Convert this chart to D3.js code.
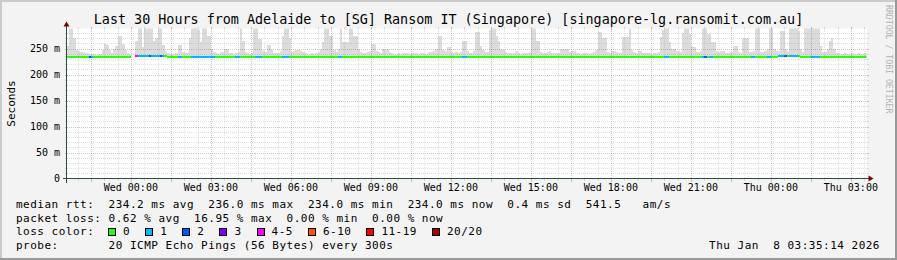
<!DOCTYPE html>
<html><head><meta charset="utf-8">
<script src="https://cdn.jsdelivr.net/npm/d3@7"></script>
<style>
html,body{margin:0;padding:0;background:#f3f3f3;}
svg{display:block;}
text{font-family:"DejaVu Sans Mono",monospace;}
</style></head><body>
<svg id="c" width="897" height="260"></svg>
<script>
// ---------------- data ----------------
const titleText = "Last 30 Hours from Adelaide to [SG] Ransom IT (Singapore) [singapore-lg.ransomit.com.au]";
const endTime = Date.UTC(2026, 0, 8, 3, 35, 14);
const spanHours = 30;
const stepSeconds = 300;
const yMax = 288.5;
const yTickValues = [0, 50, 100, 150, 200, 250];
const yTickLabels = ["0", "50 m", "100 m", "150 m", "200 m", "250 m"];
const xTickLabels = ["Wed 00:00","Wed 03:00","Wed 06:00","Wed 09:00","Wed 12:00","Wed 15:00","Wed 18:00","Wed 21:00","Thu 00:00","Thu 03:00"];

// median rtt per 5-minute step (ms), null = no data
const medianRtt = [
234,234,234,234,234,234,234,234,234,234,
234,234,234,234,234,234,234,234,234,234,
234,234,234,234,234,234,234,234,234,null,
null,236,236,236,236,236,236,236,236,236,
236,236,236,236,236,234,234,234,234,234,
234,234,234,234,234,234,234,234,234,234,
234,234,234,234,234,234,234,234,234,234,
234,234,234,234,234,234,234,234,234,234,
234,234,234,234,234,234,234,234,234,234,
234,234,234,234,234,234,234,234,234,234,
234,234,234,234,234,234,234,234,234,234,
234,234,234,234,234,234,234,234,234,234,
234,234,234,234,234,234,234,234,234,234,
234,234,234,234,234,234,234,234,234,234,
234,234,234,234,234,234,234,234,234,234,
234,234,234,234,234,234,234,234,234,234,
234,234,234,234,234,234,234,234,234,234,
234,234,234,234,234,234,234,234,234,234,
234,234,234,234,234,234,234,234,234,234,
234,234,234,234,234,234,234,234,234,234,
234,234,234,234,234,234,234,234,234,234,
234,234,234,234,234,234,234,234,234,234,
234,234,234,234,234,234,234,234,234,234,
234,234,234,234,234,234,234,234,234,234,
234,234,234,234,234,234,234,234,234,234,
234,234,234,234,234,234,234,234,234,234,
234,234,234,234,234,234,234,234,234,234,
234,234,234,234,234,234,234,234,234,234,
234,234,234,234,234,234,234,234,234,234,
234,234,234,234,234,234,234,234,234,234,
234,234,234,234,234,234,234,234,234,234,
234,234,234,234,234,234,234,234,234,234,
236,236,236,236,236,236,236,236,236,236,
234,234,234,234,234,234,234,234,234,234,
234,234,234,234,234,234,234,234,234,234,
234,234,234,234,234,234,234,234,234,234
];

// lost pings (of 20) per step
const lossCount = [
0,0,0,0,0,0,0,0,0,0,
2,1,0,0,0,0,0,0,0,0,
0,0,0,0,0,0,0,0,0,0,
0,4,1,1,1,1,1,2,1,1,
1,1,2,1,0,0,0,0,0,0,
1,1,0,0,0,0,1,1,1,1,
1,1,1,1,1,1,1,0,0,0,
0,0,0,0,0,0,1,1,0,0,
0,0,0,0,0,1,1,1,0,0,
0,0,0,0,0,0,0,1,1,1,
0,0,0,0,0,0,0,0,0,0,
0,0,0,0,0,0,0,0,0,0,
0,0,1,1,0,0,0,0,0,0,
0,0,0,0,0,0,0,0,0,0,
0,0,0,0,0,0,0,0,0,0,
0,0,0,0,0,0,0,0,0,0,
0,0,0,0,0,0,0,0,0,0,
0,0,0,0,0,0,0,0,1,1,
0,0,0,0,0,0,0,0,0,0,
0,0,0,0,0,0,0,0,0,0,
0,0,0,0,0,0,0,0,0,0,
0,0,0,0,0,0,0,0,0,0,
0,0,0,0,0,0,0,0,0,0,
0,0,0,0,0,0,0,0,0,0,
0,0,0,0,0,0,0,0,0,0,
0,0,0,0,0,0,0,0,0,0,
0,0,0,0,0,0,0,0,0,1,
1,0,0,0,0,0,0,0,0,0,
0,0,0,0,0,0,1,2,0,1,
1,0,0,0,0,0,0,0,0,0,
0,0,0,0,0,0,0,0,1,1,
0,0,0,0,0,1,1,0,0,0,
1,1,1,2,0,1,1,1,1,0,
0,0,0,0,0,1,1,1,1,0,
0,0,0,0,0,0,0,0,0,0,
0,0,0,0,0,0,0,0,0,0
];

// highest ping per step (ms) -> top of the smoke
const smokeMax = [
255,300,300,270,248,245,244,244,242,241,
240,239,240,238,239,240,248,258,256,247,
242,250,255,274,274,258,248,241,240,null,
null,265,300,300,252,290,300,300,300,265,
270,300,300,256,245,241,240,240,239,241,
256,256,243,241,242,270,300,300,300,285,
262,300,300,275,275,250,243,241,240,243,
243,250,249,242,241,240,242,244,300,265,
243,241,240,241,300,300,268,268,245,243,
256,256,248,242,241,242,245,275,300,300,
270,244,245,247,247,246,243,241,240,240,
241,240,242,243,250,262,300,300,275,275,
248,243,250,300,262,262,262,300,290,275,
275,250,243,241,242,244,245,259,259,246,
243,242,250,250,249,243,241,240,240,241,
240,241,242,241,240,241,242,241,240,241,
241,240,242,244,243,246,250,275,275,248,
246,252,252,244,242,243,242,244,265,265,
245,242,241,245,282,282,255,248,243,244,
285,300,300,275,265,250,248,244,241,242,
241,242,245,241,240,241,242,242,244,300,
300,265,265,243,241,242,244,245,242,241,
241,242,250,250,250,250,243,245,245,242,
241,240,241,242,241,240,241,243,248,282,
282,270,270,244,242,245,245,243,241,242,
273,273,273,290,248,243,242,245,245,242,
242,242,241,240,241,242,244,272,285,300,
300,262,250,250,245,245,244,280,300,300,
278,255,252,244,243,245,300,300,278,278,
262,262,245,243,245,245,242,241,243,244,
255,255,243,242,270,270,270,243,244,245,
300,300,244,243,245,250,300,300,250,245,
245,283,283,250,245,300,300,300,300,283,
250,244,300,300,300,300,300,300,300,255,
244,243,250,265,270,250,242,241,240,240,
241,240,240,241,240,240,241,240,240,241
];

const lossLegend = ["0","1","2","3","4-5","6-10","11-19","20/20"];
const lossColors = ["#26ff00","#00b8ff","#0059ff","#7e00ff","#ff00ff","#ff5500","#ff0000","#a10000"];

const statsLine = "median rtt:  234.2 ms avg  236.0 ms max  234.0 ms min  234.0 ms now  0.4 ms sd  541.5   am/s";
const lossLine = "packet loss: 0.62 % avg  16.95 % max  0.00 % min  0.00 % now";
const probeLabel = "probe:";
const probeText = "20 ICMP Echo Pings (56 Bytes) every 300s";
const stampText = "Thu Jan  8 03:35:14 2026";
const sideText = "RRDTOOL / TOBI OETIKER";

// ---------------- drawing ----------------
const W = 897, H = 260;
const svg = d3.select("#c");
const X0 = 66.5, XS = 800, Y0 = 178.5, YS = 150;
const start = endTime - spanHours * 3600e3;
const x = d3.scaleUtc().domain([new Date(start), new Date(endTime)]).range([X0, X0 + XS]);
const y = d3.scaleLinear().domain([0, yMax]).range([Y0, Y0 - YS]);

// background + 3D border
svg.append("rect").attr("width", W).attr("height", H).attr("fill", "#f3f3f3");
svg.append("path").attr("d", `M0,0H${W}V2H2V${H}H0Z`).attr("fill", "#cbcbcb");
svg.append("path").attr("d", `M${W},${H}H0V${H-2}H${W-2}V0H${W}Z`).attr("fill", "#999999");

// canvas
svg.append("rect").attr("x", X0).attr("y", Y0 - YS).attr("width", XS).attr("height", YS).attr("fill", "#ffffff");

const clipId = "plotclip";
svg.append("clipPath").attr("id", clipId).append("rect")
  .attr("x", X0).attr("y", Y0 - YS).attr("width", XS).attr("height", YS);

const steps = medianRtt.map((m, i) => ({
  t0: new Date(start + i * stepSeconds * 1000),
  t1: new Date(start + (i + 1) * stepSeconds * 1000),
  med: m, hi: smokeMax[i], loss: lossCount[i]
}));

const g = svg.append("g").attr("clip-path", `url(#${clipId})`);

// smoke
g.selectAll("rect.smoke").data(steps.filter(d => d.med != null && d.hi != null)).join("rect")
  .attr("class", "smoke")
  .attr("x", d => x(d.t0)).attr("width", d => x(d.t1) - x(d.t0) + 0.3)
  .attr("y", d => y(d.hi)).attr("height", d => y(d.med) - y(d.hi))
  .attr("fill", "#dcdcdc").attr("shape-rendering", "crispEdges");

function lossIdx(n) {
  if (n <= 3) return n;
  if (n <= 5) return 4;
  if (n <= 10) return 5;
  if (n <= 19) return 6;
  return 7;
}
// median line
g.selectAll("line.med").data(steps.filter(d => d.med != null)).join("line")
  .attr("class", "med")
  .attr("x1", d => x(d.t0)).attr("x2", d => x(d.t1))
  .attr("y1", d => Math.round(y(d.med)) - 0.5).attr("y2", d => Math.round(y(d.med)) - 0.5)
  .attr("stroke", d => lossColors[lossIdx(d.loss)]).attr("stroke-width", 2)
  .attr("shape-rendering", "crispEdges");

// grid
const GRID = "rgba(140,140,140,0.27)", MGRID = "rgba(130,30,30,0.27)";
const minorY = d3.range(10, yMax, 10).filter(v => v % 50 !== 0);
const majorY = yTickValues.filter(v => v > 0);
const minorT = d3.utcMinute.every(30).range(new Date(start), new Date(endTime));
const majorT = minorT.filter(d => (d.getTime() / 60000) % 90 === 0);
const minorT2 = minorT.filter(d => (d.getTime() / 60000) % 90 !== 0);

const grid = svg.append("g").attr("shape-rendering", "crispEdges");
function hline(v, col) {
  const yy = Math.round(y(v)) + 0.5;
  grid.append("line").attr("x1", X0).attr("x2", X0 + XS).attr("y1", yy).attr("y2", yy)
    .attr("stroke", col).attr("stroke-dasharray", "1,1");
  grid.append("line").attr("x1", X0 - 2).attr("x2", X0).attr("y1", yy).attr("y2", yy).attr("stroke", col);
  grid.append("line").attr("x1", X0 + XS).attr("x2", X0 + XS + 2).attr("y1", yy).attr("y2", yy).attr("stroke", col);
}
function vline(t, col, major) {
  const xx = Math.round(x(t)) + 0.5;
  grid.append("line").attr("x1", xx).attr("x2", xx).attr("y1", Y0 - YS).attr("y2", Y0)
    .attr("stroke", col).attr("stroke-dasharray", "1,1");
  grid.append("line").attr("x1", xx).attr("x2", xx).attr("y1", Y0 - YS - 2).attr("y2", Y0 - YS).attr("stroke", col);
  grid.append("line").attr("x1", xx).attr("x2", xx).attr("y1", Y0).attr("y2", Y0 + (major ? 3 : 2)).attr("stroke", col);
}
minorY.forEach(v => hline(v, GRID));
minorT2.forEach(t => vline(t, GRID, false));
majorY.forEach(v => hline(v, MGRID));
majorT.forEach(t => vline(t, MGRID, true));

// axes
const AX = "#2c4d43";
svg.append("line").attr("x1", X0 - 4).attr("x2", X0 + XS + 4).attr("y1", Y0).attr("y2", Y0)
  .attr("stroke", AX).attr("stroke-width", 1).attr("shape-rendering", "crispEdges");
svg.append("line").attr("x1", X0).attr("x2", X0).attr("y1", Y0 + 4).attr("y2", Y0 - YS - 4)
  .attr("stroke", AX).attr("stroke-width", 1).attr("shape-rendering", "crispEdges");
svg.append("path").attr("d", `M${X0+XS+2},${Y0-3}L${X0+XS+2},${Y0+3}L${X0+XS+7},${Y0}Z`).attr("fill", "#7f0000");
svg.append("path").attr("d", `M${X0-3},${Y0-YS-2}L${X0+3},${Y0-YS-2}L${X0},${Y0-YS-7}Z`).attr("fill", "#7f0000");

// y labels
svg.selectAll("text.yl").data(yTickValues).join("text").attr("class", "yl")
  .attr("x", 60).attr("y", v => y(v) + 3.6).attr("text-anchor", "end")
  .attr("font-size", "10px").attr("fill", "#000")
  .text((v, i) => yTickLabels[i]);

// x labels
const labelT = d3.utcHour.every(3).range(new Date(start), new Date(endTime));
svg.selectAll("text.xl").data(labelT).join("text").attr("class", "xl")
  .attr("x", d => x(d)).attr("y", 191).attr("text-anchor", "middle")
  .attr("font-size", "10px").attr("fill", "#000")
  .text((d, i) => xTickLabels[i]);

// title
svg.append("text").attr("x", W / 2).attr("y", 24).attr("text-anchor", "middle")
  .attr("font-size", "13.4px").attr("fill", "#000").text(titleText);

// y axis title
svg.append("text").attr("transform", `translate(14.5,${Y0 - YS / 2}) rotate(-90)`)
  .attr("text-anchor", "middle").attr("font-size", "11px").attr("fill", "#000").text("Seconds");

// watermark
svg.append("text").attr("transform", "translate(885.5,5) rotate(90)")
  .attr("font-size", "8.2px").attr("fill", "#b4b4b4").text(sideText);

// legend
const LX = 16, ADV = 7.12;
function ltext(str, xx, yy, anchor) {
  return svg.append("text").attr("x", xx).attr("y", yy).attr("font-size", "11px")
    .attr("letter-spacing", (ADV - 11 * 0.602) + "px")
    .attr("text-anchor", anchor || "start")
    .style("white-space", "pre").attr("fill", "#000").text(str);
}
ltext(statsLine, LX, 208);
ltext(lossLine, LX, 221.7);
ltext("loss color:", LX, 235.3);
let bx = LX + 13 * ADV - 0.5;
lossLegend.forEach((lab, i) => {
  svg.append("rect").attr("x", Math.round(bx) + 0.5).attr("y", 228.5).attr("width", 7).attr("height", 7)
    .attr("fill", lossColors[i]).attr("stroke", "#000").attr("stroke-width", 1).attr("shape-rendering", "crispEdges");
  ltext(lab, bx + 15, 235.3);
  bx += 30 + ADV * lab.length;
});
ltext(probeLabel, LX, 249.3);
ltext(probeText, LX + 13 * ADV, 249.3);
ltext(stampText, 880, 249.3, "end");
</script>
</body></html>
